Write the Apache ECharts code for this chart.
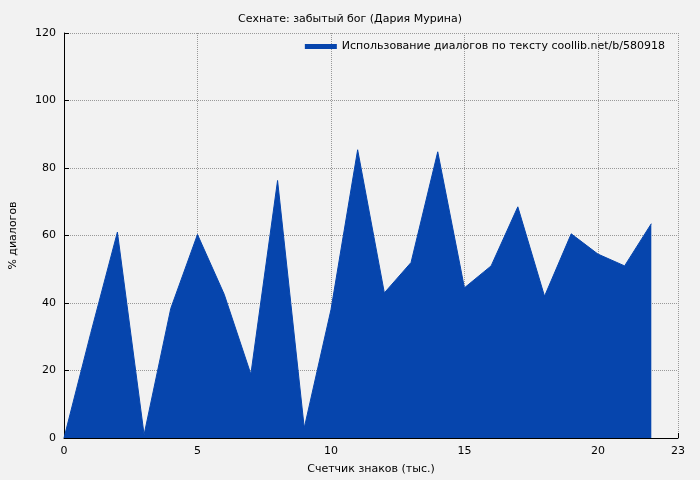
<!DOCTYPE html>
<html><head><meta charset="utf-8">
<script src="https://cdn.jsdelivr.net/npm/echarts@6/dist/echarts.min.js"></script>
<style>html,body{margin:0;background:#f2f2f2}#c{width:700px;height:480px}</style>
</head><body><div id="c"></div>
<script>
const xs = [0,1,2,3,4,5,6,7,8,9,10,11,12,13,14,15,16,17,18,19,20,21,22];
const vals = [0,31,61,1,38.4,60.3,42.6,18.9,76.3,3,38,85.4,43,52,84.8,44.5,51,68.5,42,60.5,54.5,51,63.5];
const seriesName = 'Использование диалогов по тексту coollib.net/b/580918';
const chart = echarts.init(document.getElementById('c'));
const font = 'DejaVu Sans';
const axisCommon = {
  axisLine:{lineStyle:{color:'#000'}},
  axisTick:{inside:true,lineStyle:{color:'#000'}},
  axisLabel:{color:'#000',fontSize:11,fontFamily:font},
  splitLine:{show:true,lineStyle:{color:'#999',type:'dotted'}},
  nameLocation:'middle',
  nameTextStyle:{color:'#000',fontSize:11,fontFamily:font}
};
chart.setOption({
  backgroundColor:'#f2f2f2',
  animation:false,
  title:{text:'Сехнате: забытый бог (Дария Мурина)',left:'center',top:9,textStyle:{fontSize:11,fontWeight:'normal',color:'#000',fontFamily:font}},
  legend:{right:30,top:36,itemWidth:32,itemHeight:5,icon:'rect',textStyle:{fontSize:11,color:'#000',fontFamily:font},data:[seriesName]},
  grid:{left:61,right:22,top:33,bottom:41},
  xAxis:Object.assign({type:'value',min:0,max:23,interval:5,name:'Счетчик знаков (тыс.)',nameGap:26},axisCommon),
  yAxis:Object.assign({type:'value',min:0,max:120,interval:20,name:'% диалогов',nameGap:45},axisCommon),
  series:[{name:seriesName,type:'line',symbol:'none',data:xs.map((x,i)=>[x,vals[i]]),
    lineStyle:{color:'#0645ad',width:1},itemStyle:{color:'#0645ad'},areaStyle:{color:'#0645ad',opacity:1}}]
});
</script></body></html>
